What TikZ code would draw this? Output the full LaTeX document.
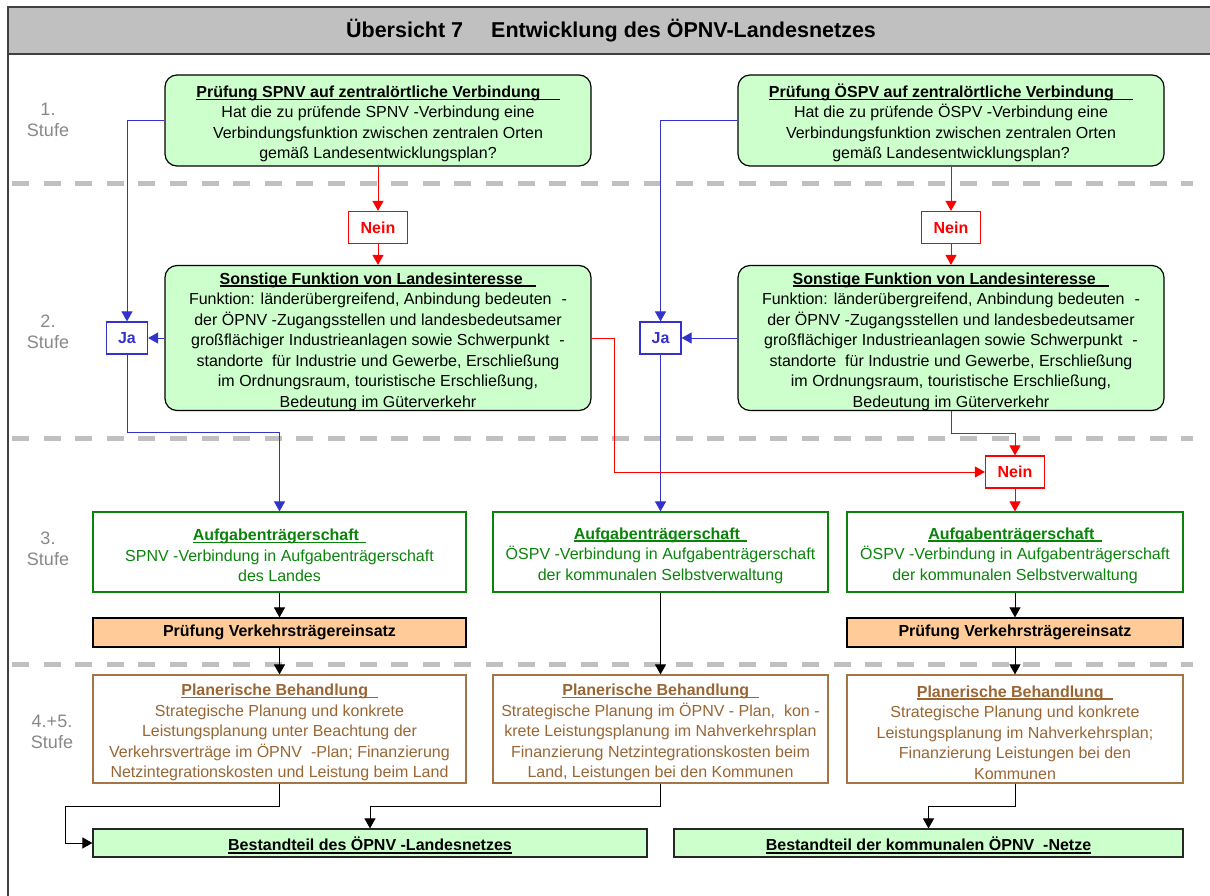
\documentclass[tikz,border=0pt]{standalone}
\usepackage{fontspec}
\setmainfont{Liberation Sans}
\usetikzlibrary{arrows.meta}
\definecolor{boxgreen}{HTML}{CCFFCC}
\definecolor{peach}{HTML}{FFCC99}
\definecolor{bargray}{HTML}{C0C0C0}
\definecolor{stufegray}{HTML}{888888}
\definecolor{jablue}{HTML}{3333CC}
\definecolor{taskgreen}{HTML}{0A830A}
\definecolor{planbrown}{HTML}{996633}
\newcommand{\bodyfont}{\fontsize{16}{20.5}\selectfont}
\newcommand{\headline}[1]{\setbox0\hbox{#1}\rlap{\rule[-2.6pt]{\wd0}{1.3pt}}\box0\rule{0pt}{18.5pt}}
\begin{document}
\begin{tikzpicture}[x=1pt, y=-1pt, >={Triangle[length=10pt,width=11pt]},
      every node/.style = {font=\bodyfont, align=center, inner sep=0pt},
      roundgreen/.style = {draw, line width=1.2pt, fill=boxgreen, rounded corners=12pt, minimum width=426pt},
      yesbox/.style = {draw=jablue, line width=1.2pt, fill=white, text=jablue, font=\bodyfont\bfseries, minimum width=41pt, minimum height=32pt},
      nobox/.style = {draw=red, line width=1.2pt, fill=white, text=red, font=\bodyfont\bfseries, minimum width=59pt, minimum height=32pt},
      taskbox/.style = {draw=taskgreen, line width=1.2pt, text=taskgreen, minimum height=80pt},
      checkbox/.style = {draw, line width=1.2pt, fill=peach, font=\bodyfont\bfseries, minimum height=29pt},
      planbox/.style = {draw=planbrown!90, line width=1.2pt, text=planbrown, minimum height=108pt},
      partbox/.style = {draw=black!85, line width=1.2pt, fill=boxgreen, font=\bodyfont\bfseries, minimum height=28pt},
      stufe/.style = {text=stufegray, font=\fontsize{18}{21}\selectfont},
      sepline/.style = {bargray, line width=5pt, dash pattern=on 17pt off 14.6pt},
      bluearrow/.style = {jablue, line width=1pt, ->},
      redarrow/.style = {red, line width=1pt, ->},
      blackarrow/.style = {black, line width=1pt, ->}]
  \useasboundingbox (0,0) rectangle (1210,896);
  % frame and title
  \draw[fill=bargray, draw=black!75, line width=1.5pt] (8,7) rectangle (1220,54);
  \draw[black!75, line width=1.5pt] (8,54) -- (8,900);
  \node[font=\fontsize{21.5}{24}\selectfont\bfseries] (title) at (611,31) {Übersicht 7\hspace{28pt}Entwicklung des ÖPNV-Landesnetzes};
  \foreach \y in {184,438,664}
    \draw[sepline] (12,\y) -- (1193,\y);
  % stages
  \node[stufe] (stufe1) at (48,120) {1.\\Stufe};
  \node[stufe] (stufe2) at (48,332) {2.\\Stufe};
  \node[stufe] (stufe3) at (48,549) {3.\\Stufe};
  \node[stufe] (stufe4) at (52,732) {4.+5.\\Stufe};
  % level 1 and 2
  \node[roundgreen, minimum height=91pt] (spnv) at (378,120.5) {\headline{\textbf{Prüfung SPNV auf zentralörtliche Verbindung}\hspace{1.2em}}\\
    Hat die zu prüfende SPNV -Verbindung eine\\ Verbindungsfunktion zwischen zentralen Orten\\ gemäß Landesentwicklungsplan?};
  \node[roundgreen, minimum height=91pt] (ospv) at (951,120.5) {\headline{\textbf{Prüfung ÖSPV auf zentralörtliche Verbindung}\hspace{1.2em}}\\
    Hat die zu prüfende ÖSPV -Verbindung eine\\ Verbindungsfunktion zwischen zentralen Orten\\ gemäß Landesentwicklungsplan?};
  \node[nobox] (nein1) at (378,227.5) {Nein};
  \node[nobox] (nein2) at (951,227.5) {Nein};
  \node[roundgreen, minimum height=145pt] (sonst1) at (378,338) {\headline{\textbf{Sonstige Funktion von Landesinteresse}\hspace{0.85em}}\\
    Funktion: länderübergreifend, Anbindung bedeuten\hspace{10pt}-\\ der ÖPNV -Zugangsstellen und landesbedeutsamer\\
    großflächiger Industrieanlagen sowie Schwerpunkt\hspace{10pt}-\\ standorte\ \ für Industrie und Gewerbe, Erschließung\\
    im Ordnungsraum, touristische Erschließung,\\ Bedeutung im Güterverkehr};
  \node[roundgreen, minimum height=145pt] (sonst2) at (951,338) {\headline{\textbf{Sonstige Funktion von Landesinteresse}\hspace{0.85em}}\\
    Funktion: länderübergreifend, Anbindung bedeuten\hspace{10pt}-\\ der ÖPNV -Zugangsstellen und landesbedeutsamer\\
    großflächiger Industrieanlagen sowie Schwerpunkt\hspace{10pt}-\\ standorte\ \ für Industrie und Gewerbe, Erschließung\\
    im Ordnungsraum, touristische Erschließung,\\ Bedeutung im Güterverkehr};
  \node[yesbox] (ja1) at (127,338) {Ja};
  \node[yesbox] (ja2) at (660.5,338) {Ja};
  \node[nobox] (nein3) at (1015,472) {Nein};
  % level 3
  \node[taskbox, minimum width=373pt] (task1) at (279.5,552) {\headline{\textbf{Aufgabenträgerschaft}\hspace{0.45em}}\\
    SPNV -Verbindung in Aufgabenträgerschaft\\ des Landes};
  \node[taskbox, minimum width=335pt] (task2) at (660.5,552) {\headline{\textbf{Aufgabenträgerschaft}\hspace{0.45em}}\\
    ÖSPV -Verbindung in Aufgabenträgerschaft\\ der kommunalen Selbstverwaltung};
  \node[taskbox, minimum width=336pt] (task3) at (1015,552) {\headline{\textbf{Aufgabenträgerschaft}\hspace{0.45em}}\\
    ÖSPV -Verbindung in Aufgabenträgerschaft\\ der kommunalen Selbstverwaltung};
  \node[checkbox, minimum width=373pt] (check1) at (279.5,632.5) {Prüfung Verkehrsträgereinsatz};
  \node[checkbox, minimum width=336pt] (check3) at (1015,632.5) {Prüfung Verkehrsträgereinsatz};
  % level 4+5
  \node[planbox, minimum width=373pt] (plan1) at (279.5,729) {\headline{\textbf{Planerische Behandlung}\hspace{0.6em}}\\
    Strategische Planung und konkrete\\ Leistungsplanung unter Beachtung der\\
    Verkehrsverträge im ÖPNV\ \ -Plan; Finanzierung\\ Netzintegrationskosten und Leistung beim Land};
  \node[planbox, minimum width=335pt] (plan2) at (660.5,729) {\headline{\textbf{Planerische Behandlung}\hspace{0.6em}}\\
    Strategische Planung im ÖPNV - Plan,\ \ kon -\\ krete Leistungsplanung im Nahverkehrsplan\\
    Finanzierung Netzintegrationskosten beim\\ Land, Leistungen bei den Kommunen};
  \node[planbox, minimum width=336pt] (plan3) at (1015,729) {\headline{\textbf{Planerische Behandlung}\hspace{0.6em}}\\
    Strategische Planung und konkrete\\ Leistungsplanung im Nahverkehrsplan;\\
    Finanzierung Leistungen bei den\\ Kommunen};
  \node[partbox, minimum width=554pt] (part1) at (370,843) {\headline{Bestandteil des ÖPNV -Landesnetzes}};
  \node[partbox, minimum width=509pt] (part2) at (928.5,843) {\headline{Bestandteil der kommunalen ÖPNV\ \ -Netze}};
  % connectors
  \draw[redarrow] (spnv.south) -- (nein1.north);
  \draw[redarrow] (nein1.south) -- (sonst1.north);
  \draw[redarrow] (ospv.south) -- (nein2.north);
  \draw[redarrow] (nein2.south) -- (sonst2.north);
  \draw[bluearrow] (spnv.west) -| (ja1.north);
  \draw[bluearrow] (ospv.west) -| (ja2.north);
  \draw[bluearrow] (sonst1.west) -- (ja1.east);
  \draw[bluearrow] (sonst2.west) -- (ja2.east);
  \draw[bluearrow] (ja1.south) -- ++(0,78) -| (task1.north);
  \draw[bluearrow] (ja2.south) -- (task2.north);
  \draw[redarrow] (sonst1.east) -- ++(23,0) |- (nein3.west);
  \draw[redarrow] (sonst2.south) -- ++(0,22) -| (nein3.north);
  \draw[redarrow] (nein3.south) -- (task3.north);
  \draw[blackarrow] (task1.south) -- (check1.north);
  \draw[blackarrow] (check1.south) -- (plan1.north);
  \draw[blackarrow] (task2.south) -- (plan2.north);
  \draw[blackarrow] (task3.south) -- (check3.north);
  \draw[blackarrow] (check3.south) -- (plan3.north);
  \draw[blackarrow] (plan1.south) -- ++(0,23) -- ++(-214,0) |- (part1.west);
  \draw[blackarrow] (plan2.south) -- ++(0,23) -| (part1.north);
  \draw[blackarrow] (plan3.south) -- ++(0,23) -| (part2.north);
\end{tikzpicture}
\end{document}
